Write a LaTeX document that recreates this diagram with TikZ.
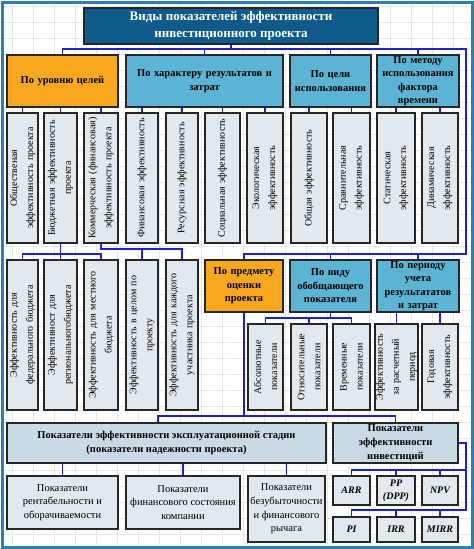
\documentclass[tikz,border=0pt]{standalone}
\usepackage{fontspec}
\setmainfont{Liberation Serif}
\usetikzlibrary{calc}
\definecolor{frameblue}{RGB}{42,128,178}
\definecolor{titleblue}{RGB}{14,90,138}
\definecolor{hdrblue}{RGB}{92,180,212}
\definecolor{orangec}{RGB}{247,168,30}
\definecolor{leafc}{RGB}{226,233,238}
\definecolor{steelc}{RGB}{200,218,228}
\definecolor{linkblue}{RGB}{30,30,215}
\definecolor{gridc}{RGB}{228,232,236}
\begin{document}
\begin{tikzpicture}[x=1pt,y=-1pt,
  box/.style={draw=black!85, line width=1.5pt, align=center, inner sep=1pt},
  titlebox/.style={box, fill=titleblue, text=white, font=\bfseries\fontsize{13}{17}\selectfont},
  hdr/.style={box, fill=hdrblue, font=\bfseries\fontsize{10.5}{13.5}\selectfont, text width=#1},
  org/.style={hdr=#1, fill=orangec},
  leaf/.style={box, fill=leafc, rotate=90, font=\fontsize{10}{16}\selectfont},
  leafA/.style={leaf, minimum width=130, text width=124, minimum height=#1},
  leafB/.style={leaf, minimum width=150, text width=144, minimum height=#1},
  leafC/.style={leaf, minimum width=86, text width=82, minimum height=#1},
  steel/.style={box, fill=steelc, font=\bfseries\fontsize{10.5}{14}\selectfont},
  kbox/.style={box, fill=leafc, font=\fontsize{10.5}{13.7}\selectfont},
  ibox/.style={box, fill=leafc, font=\bfseries\itshape\fontsize{10}{13}\selectfont, minimum width=#1},
  conn/.style={draw=linkblue, line width=1.4pt}
]
\useasboundingbox (0,0) rectangle (474,549);
\fill[white] (0,0) rectangle (474,549);
\foreach \x in {12,33,...,470} \draw[gridc, line width=0.5pt] (\x,4) -- (\x,545);
\foreach \y in {6,22,...,545} \draw[gridc, line width=0.5pt] (4,\y) -- (470,\y);
\draw[frameblue, line width=3pt] (2,2) rectangle (472,547);

% title
\node[titlebox, minimum width=294, minimum height=36] (T) at (231,26) {Виды показателей эффективности\\инвестиционного проекта};

% level 1
\node[org=108, minimum width=111, minimum height=52] (A) at (62.5,81) {По уровню целей};
\node[hdr=154, minimum width=157, minimum height=52] (B) at (204.5,81) {По характеру результатов и\\затрат};
\node[hdr=79, minimum width=79, minimum height=52] (C) at (330.5,81) {По цели\\использования};
\node[hdr=80, minimum width=80, minimum height=52] (D) at (418,81) {По методу\\использования\\фактора\\времени};

% level 2
\node[leafA=31] (a1) at (22.5,178) {Общественая\\эффективность проекта};
\node[leafA=33] (a2) at (60.5,178) {Бюджетная эффективность\\проекта};
\node[leafA=34] (a3) at (101,178) {Коммерческая (финансовая)\\эффективность проекта};
\node[leafA=32] (b1) at (142,178) {Финансовая эффективность};
\node[leafA=32] (b2) at (182,178) {Ресурсная эффективность};
\node[leafA=35] (b3) at (222.5,178) {Социальная эффективность};
\node[leafA=36] (b4) at (265,178) {Экологическая\\эффективность};
\node[leafA=36] (c1) at (309,178) {Общая эффективность};
\node[leafA=37] (c2) at (351.5,178) {Сравнительная\\эффективность};
\node[leafA=38] (d1) at (396,178) {Статическая\\эффективность};
\node[leafA=36] (d2) at (440,178) {Динамическая\\эффективность};

% level 3
\node[leafB=31] (e1) at (22.5,335) {Эффективность для\\федерального бюджета};
\node[leafB=33] (e2) at (60.5,335) {Эффективност для\\региональногобюджета};
\node[leafB=34] (e3) at (101,335) {Эффективность для местного\\бюджета};
\node[leafB=32] (e4) at (142,335) {Эффективность в целом по\\проекту};
\node[leafB=32] (e5) at (182,335) {Эффективность для каждого\\участника проекта};
\node[org=76, minimum width=78, minimum height=52] (F) at (244,286) {По предмету\\оценки\\проекта};
\node[hdr=79, minimum width=79, minimum height=52] (G) at (330.5,286) {По виду\\обобщающего\\показателя};
\node[hdr=80, minimum width=80, minimum height=52] (H) at (418,286) {По периоду\\учета\\результататов\\и затрат};

% level 4
\node[leafC=35] (g1) at (265.5,367) {Абсолютные\\показатели};
\node[leafC=36] (g2) at (309,367) {Относительные\\показатели};
\node[leafC=37] (g3) at (351.5,367) {Временные\\показатели};
\node[leafC=37] (h1) at (396.5,367) {Эффективность\\за расчетный\\период};
\node[leafC=36] (h2) at (440,367) {Годовая\\эффективность};

% level 5
\node[steel, minimum width=319, minimum height=40] (J) at (166.5,443) {Показатели эффективности эксплуатационной стадии\\(показатели надежности проекта)};
\node[steel, minimum width=125, minimum height=40] (I) at (395.5,443) {Показатели\\эффективности\\инвестиций};
\node[kbox, minimum width=111, minimum height=53] (k1) at (62.5,502.5) {Показатели\\рентабельности и\\оборачиваемости};
\node[kbox, minimum width=114, minimum height=53] (k2) at (183,502.5) {Показатели\\финансового состояния\\компании};
\node[kbox, minimum width=77, minimum height=66] (k3) at (286.5,509) {Показатели\\безубыточности\\и финансового\\рычага};
\node[ibox=37, minimum height=29] (ARR) at (351.5,490.5) {ARR};
\node[ibox=38, minimum height=29] (PP) at (396,490.5) {PP\\(DPP)};
\node[ibox=36, minimum height=29] (NPV) at (440,490.5) {NPV};
\node[ibox=37, minimum height=25] (PI) at (351.5,529.5) {PI};
\node[ibox=38, minimum height=25] (IRR) at (396,529.5) {IRR};
\node[ibox=36, minimum height=25] (MIRR) at (440,529.5) {MIRR};

% connectors
\coordinate (tb) at (466,49);
\coordinate (rb) at (466,254);
\draw[conn] (A.north) |- (tb) -- (rb) -| (F.north);
\draw[conn] (T.south) -- (T.south |- tb);
\foreach \n in {B,C,D} \draw[conn] (\n.north) -- (\n.north |- tb);
\foreach \n in {G,H} \draw[conn] (\n.north) -- (\n.north |- rb);
\foreach \p/\c in {A/a1,A/a2,A/a3,B/b1,B/b2,B/b3,B/b4,C/c1,C/c2,D/d1,D/d2}
  \draw[conn] (\c.east) -- (\c.east |- \p.south);

\coordinate (ab) at (0,254);
\draw[conn] (a2.west) -- (e2.east);
\draw[conn] (e1.east) -- (e1.east |- ab) -| (e3.east);
\coordinate (cb) at (0,249);
\draw[conn] (a3.west) |- (e5.east |- cb) -- (e5.east);
\draw[conn] (e4.east) -- (e4.east |- cb);

\coordinate (gb) at (0,318);
\draw[conn] (G.south) -- (G.south |- gb);
\draw[conn] (g1.east) -- (g1.east |- gb) -| (g3.east);
\draw[conn] (g2.east) -- (g2.east |- gb);
\draw[conn] (h1.east) -- (h1.east |- H.south);
\draw[conn] (h2.east) -- (h2.east |- H.south);

\coordinate (fb) at (0,416);
\coordinate (jt) at ($(J.north)+(-8.5,0)$);
\draw[conn] (F.south) -- (F.south |- fb);
\draw[conn] (jt) -- (jt |- fb) -| (I.north);
\foreach \k in {k1,k2,k3} \draw[conn] (\k.north) -- (\k.north |- J.south);

\coordinate (ic) at (466,0);
\coordinate (ib1) at (0,470);
\coordinate (ib2) at (0,510);
\draw[conn] (I.east) -| (ic |- ib2) -| (PI.north);
\draw[conn] (ARR.north) |- (ic |- ib1);
\foreach \n in {PP,NPV} \draw[conn] (\n.north) -- (\n.north |- ib1);
\foreach \n in {IRR,MIRR} \draw[conn] (\n.north) -- (\n.north |- ib2);
\end{tikzpicture}
\end{document}
